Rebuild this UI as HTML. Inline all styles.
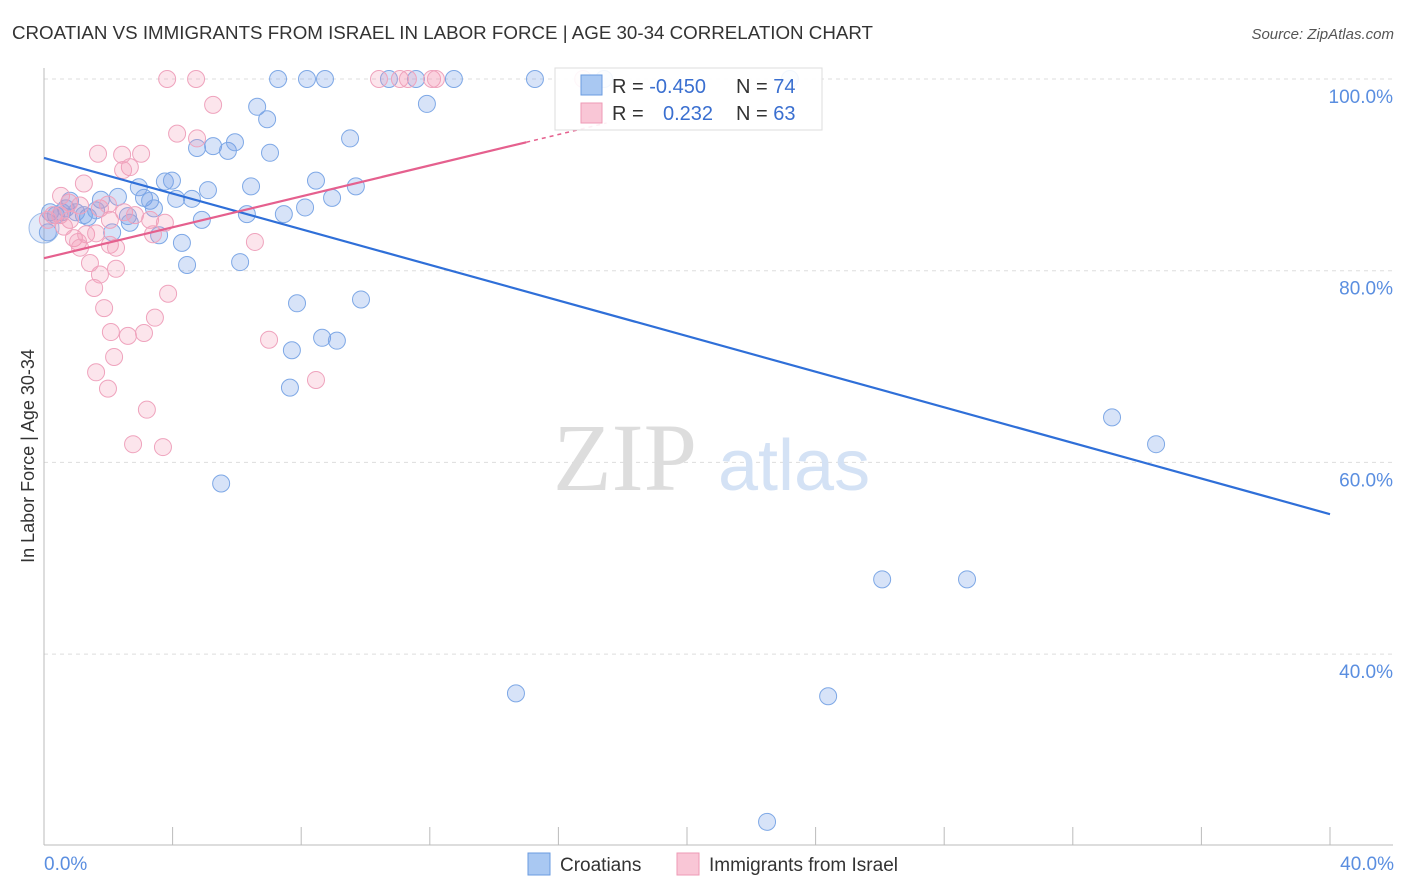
<!DOCTYPE html>
<html><head><meta charset="utf-8"><style>
body{margin:0;background:#fff;font-family:"Liberation Sans",sans-serif}
svg{display:block}
</style></head><body>
<svg id="chart" width="1406" height="892">
<text x="12" y="39" font-size="18" fill="#333" textLength="861" lengthAdjust="spacingAndGlyphs">CROATIAN VS IMMIGRANTS FROM ISRAEL IN LABOR FORCE | AGE 30-34 CORRELATION CHART</text>
<text x="1394" y="39" font-size="15" fill="#555" font-style="italic" text-anchor="end">Source: ZipAtlas.com</text>
<g id="grid"></g>
<g>
<text x="553" y="490" font-size="96" font-family="Liberation Serif,serif" fill="#ddd">ZIP</text>
<text x="718" y="490" font-size="72" fill="#d4e2f5">atlas</text>
</g>
<text transform="translate(34,456) rotate(-90)" font-size="18" fill="#333" text-anchor="middle">In Labor Force | Age 30-34</text>
<g id="pts"></g>
<g id="lines"></g>
<g>
<rect x="555" y="68" width="267" height="62" fill="#fff" fill-opacity="0.9" stroke="#ddd"/>
<rect x="581" y="75" width="21" height="20" fill="#a9c8f2" stroke="#6a9be0"/>
<rect x="581" y="103" width="21" height="20" fill="#f9c6d6" stroke="#ee9ab5"/>
<text x="612" y="93" font-size="20" fill="#333">R = <tspan fill="#3a6fd0">-0.450</tspan></text>
<text x="736" y="93" font-size="20" fill="#333">N = <tspan fill="#3a6fd0">74</tspan></text>
<text x="612" y="120" font-size="20" fill="#333">R = <tspan fill="#3a6fd0" x="663">0.232</tspan></text>
<text x="736" y="120" font-size="20" fill="#333">N = <tspan fill="#3a6fd0">63</tspan></text>
</g>
<text x="44" y="870" font-size="19" fill="#5a8ee0">0.0%</text>
<text x="1394" y="870" font-size="19" fill="#5a8ee0" text-anchor="end">40.0%</text>
<g>
<rect x="528" y="853" width="22" height="22" fill="#a9c8f2" stroke="#6a9be0"/>
<text x="560" y="871" font-size="19" fill="#333">Croatians</text>
<rect x="677" y="853" width="22" height="22" fill="#f9c6d6" stroke="#ee9ab5"/>
<text x="709" y="871" font-size="19" fill="#333">Immigrants from Israel</text>
</g>
</svg>
<script>
const blueX=[7.28,8.18,8.74,10.73,11.57,12.75,15.27,17.42,23.2,11.91,6.63,6.94,9.52,4.76,5.26,5.72,5.94,7.03,3.76,3.98,2.95,2.30,3.11,4.11,4.60,5.10,6.44,8.46,9.70,8.12,8.96,1.77,0.81,3.30,3.42,2.61,1.37,2.67,2.12,4.91,6.31,7.46,3.58,4.29,6.10,4.45,7.87,9.86,8.65,9.11,7.71,7.65,5.51,33.22,34.59,26.07,28.71,14.68,24.39,22.49,0.19,0.37,0.56,0.68,1.0,0.12,1.24,1.62];
const blueY=[100,100,100,100,100,100,100,100,100,97.4,97.1,95.8,93.8,92.8,93.0,92.5,93.4,92.3,89.3,89.4,88.7,87.7,87.6,87.5,87.5,88.4,88.8,89.4,88.8,86.6,87.6,87.4,87.3,87.3,86.5,85.7,85.6,85.0,84.0,85.3,85.9,85.9,83.7,82.9,80.9,80.6,76.6,77.0,73.0,72.7,71.7,67.8,57.8,64.7,61.9,47.8,47.8,35.9,35.6,22.5,86.1,85.8,86.1,86.5,86.1,84.0,85.8,86.3];
const pinkX=[3.83,4.73,10.42,11.07,11.32,12.07,12.19,16.77,5.26,4.14,4.76,3.02,2.43,1.68,2.67,2.46,1.24,0.53,0.78,1.12,1.74,1.99,2.49,2.83,3.30,3.76,2.05,0.81,0.50,0.28,0.12,0.62,0.93,1.06,1.31,1.62,2.05,2.24,1.12,1.43,2.24,6.56,3.39,1.74,1.56,3.86,1.87,3.45,2.08,2.61,3.11,2.18,1.62,1.99,3.20,2.77,3.70,7.00,8.46];
const pinkY=[100,100,100,100,100,100,100,100,97.3,94.3,93.8,92.2,92.1,92.2,90.8,90.5,89.1,87.8,87.1,86.8,86.5,86.9,86.1,85.8,85.3,85.0,85.3,85.3,85.8,85.8,85.3,84.6,83.4,83.0,83.8,83.9,82.7,82.4,82.4,80.8,80.2,83.0,83.8,79.6,78.2,77.6,76.1,75.1,73.6,73.2,73.5,71.0,69.4,67.7,65.5,61.9,61.6,72.8,68.6];
const yTicks=[100,80,60,40];
const yTickLabels=["100.0%","80.0%","60.0%","40.0%"];
const xTicks=[0,4,8,12,16,20,24,28,32,36,40];
const blueTrend=[91.76,54.6];
const pinkTrend=[81.3,93.4];
const NS="http://www.w3.org/2000/svg";
const sx=v=>44+v*32.15, sy=v=>79+(100-v)*9.585;
function mk(t,a,p){const e=document.createElementNS(NS,t);for(const k in a)e.setAttribute(k,a[k]);p.appendChild(e);return e;}
const grid=document.getElementById('grid');
yTicks.forEach((v,i)=>{
 const l=mk('line',{x1:44,x2:1393,y1:sy(v),y2:sy(v),stroke:'#ddd','stroke-dasharray':'4,4'},grid);
 
 
 const t=mk('text',{x:1393,y:sy(v)+24,'font-size':19,fill:'#5a8ee0','text-anchor':'end'},grid);
 t.textContent=yTickLabels[i];
 
 
});
xTicks.forEach(v=>{
 const l=mk('line',{x1:sx(v),x2:sx(v),y1:827,y2:845,stroke:'#bbb'},grid);
 
 
});
let a=mk('line',{x1:44,x2:44,y1:68,y2:845,stroke:'#bbb'},grid);


a=mk('line',{x1:44,x2:1393,y1:845,y2:845,stroke:'#bbb'},grid);


const pts=document.getElementById('pts');
let big=mk('circle',{cx:44,cy:228,r:15,fill:'rgba(110,155,230,0.2)',stroke:'#9bbbe9'},pts);


blueX.forEach((x,i)=>{
 const c=mk('circle',{cx:sx(x),cy:sy(blueY[i]),r:8.5,fill:'rgba(110,155,230,0.28)',stroke:'#7ea8e6','stroke-width':1},pts);
 
 
});
pinkX.forEach((x,i)=>{
 const c=mk('circle',{cx:sx(x),cy:sy(pinkY[i]),r:8.5,fill:'rgba(242,150,180,0.25)',stroke:'#efa3bd','stroke-width':1},pts);
 
 
});
const lines=document.getElementById('lines');
let b=mk('line',{x1:sx(0),y1:sy(blueTrend[0]),x2:sx(40),y2:sy(blueTrend[1]),stroke:'#2f6fd8','stroke-width':2.2},lines);


const pAt=x=>pinkTrend[0]+(pinkTrend[1]-pinkTrend[0])*x/15;
let p=mk('line',{x1:sx(0),y1:sy(pAt(0)),x2:sx(15),y2:sy(pAt(15)),stroke:'#e5608e','stroke-width':2.2},lines);


p=mk('line',{x1:sx(15),y1:sy(pAt(15)),x2:sx(17.5),y2:sy(pAt(17.5)),stroke:'#e5608e','stroke-width':1.5,'stroke-dasharray':'4,4'},lines);


</script>
</body></html>
